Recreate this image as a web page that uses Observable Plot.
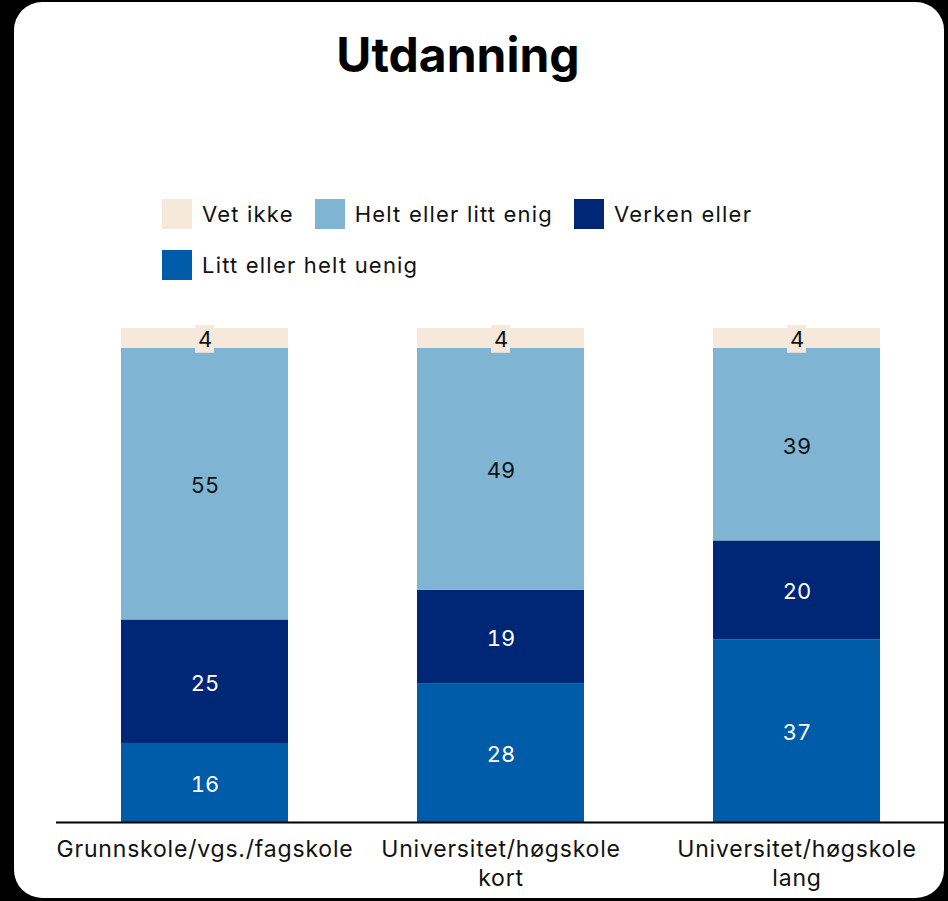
<!DOCTYPE html>
<html>
<head>
<meta charset="utf-8">
<script src="https://cdn.jsdelivr.net/npm/d3@7"></script>
<script src="https://cdn.jsdelivr.net/npm/@observablehq/plot@0.6"></script>
<style>
  html, body { margin: 0; padding: 0; background: #000; width: 948px; height: 901px; overflow: hidden; }
  #card { position: absolute; left: 14px; top: 2px; width: 930px; height: 896px; background: #fff; border-radius: 28px; }
  #title { position: absolute; left: 0; top: 31px; width: 916px; text-align: center; font-family: Inter, sans-serif; font-weight: 700; font-size: 48px; line-height: 48px; color: #000; }
  #legend { position: absolute; left: 162px; top: 199px; width: 620px; display: flex; flex-wrap: wrap; column-gap: 21px; row-gap: 21px; font-family: Inter, sans-serif; font-size: 22px; letter-spacing: 1.2px; color: #111; }
  .item { display: flex; align-items: center; height: 30px; }
  .sw { width: 30px; height: 30px; margin-right: 10px; }
  #chart { position: absolute; left: 0; top: 300px; }
  #chart g[aria-label="x-axis tick label"] { letter-spacing: 0.8px; }
</style>
</head>
<body>
<div id="card"></div>
<div id="title">Utdanning</div>
<div id="legend"></div>
<div id="chart"></div>
<script>
const categories = ["Grunnskole/vgs./fagskole", "Universitet/høgskole\nkort", "Universitet/høgskole\nlang"];
const series = ["Litt eller helt uenig", "Verken eller", "Helt eller litt enig", "Vet ikke"];
const legendOrder = ["Vet ikke", "Helt eller litt enig", "Verken eller", "Litt eller helt uenig"];
const colors = ["#005CA8", "#002776", "#7FB4D3", "#F7E8DC"];
const uenig = [16, 28, 37];
const verken = [25, 19, 20];
const enig = [55, 49, 39];
const vetIkke = [4, 4, 4];
const darkSeries = ["Litt eller helt uenig", "Verken eller"];

const valuesBySeries = [uenig, verken, enig, vetIkke];
const data = [];
series.forEach((s, si) => categories.forEach((c, ci) => data.push({category: c, series: s, value: valuesBySeries[si][ci]})));

// legend
const leg = document.getElementById("legend");
legendOrder.forEach(s => {
  const it = document.createElement("div"); it.className = "item";
  const sw = document.createElement("div"); sw.className = "sw"; sw.style.background = colors[series.indexOf(s)];
  const tx = document.createElement("span"); tx.textContent = s;
  it.appendChild(sw); it.appendChild(tx); leg.appendChild(it);
});

const stackOpts = {x: "category", y: "value", z: "series", order: series};

const chart = Plot.plot({
  width: 948,
  height: 601,
  marginTop: 28,
  marginBottom: 79,
  marginLeft: 56,
  marginRight: 4,
  style: {fontFamily: "Inter, sans-serif", background: "transparent"},
  x: {domain: categories, paddingInner: 0.437, paddingOuter: 0.215, align: 0.5, label: null},
  y: {domain: [0, 100], axis: null},
  color: {domain: series, range: colors},
  marks: [
    Plot.barY(data, Plot.stackY({...stackOpts, fill: "series"})),
    Plot.barY(data, Plot.stackY({...stackOpts, fill: "#F7E8DC",
      fillOpacity: d => d.series === "Vet ikke" ? 1 : 0,
      insetLeft: 74, insetRight: 74, insetTop: -3, insetBottom: -5})),
    Plot.text(data, Plot.stackY({...stackOpts, text: d => darkSeries.includes(d.series) ? d.value : null, fill: "white", fontSize: 22, dy: 2})),
    Plot.text(data, Plot.stackY({...stackOpts, text: d => darkSeries.includes(d.series) ? null : d.value, fill: "#111", fontSize: 22, dy: 2})),
    Plot.ruleY([0], {stroke: "#000", strokeWidth: 2}),
    Plot.axisX({tickSize: 0, tickPadding: 14, fontSize: 23, lineHeight: 1.27, fill: "#111", label: null})
  ]
});
document.getElementById("chart").appendChild(chart);
</script>
</body>
</html>
